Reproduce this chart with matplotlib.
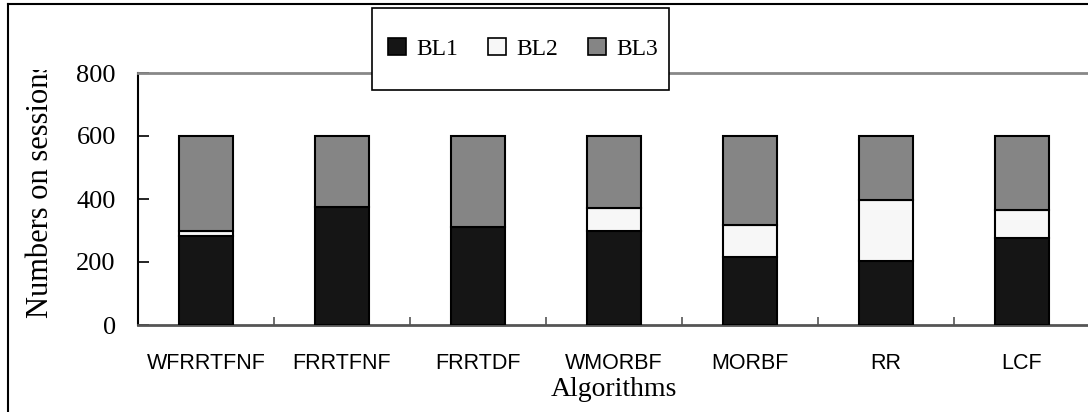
import matplotlib
matplotlib.use("Agg")
import matplotlib.pyplot as plt
from matplotlib.patches import Rectangle
from matplotlib.lines import Line2D
from matplotlib.transforms import Bbox, TransformedBbox
import numpy as np

# data
algorithms = ["WFRRTFNF", "FRRTFNF", "FRRTDF", "WMORBF", "MORBF", "RR", "LCF"]
bl1 = [283, 374, 312, 299, 215, 203, 276]
bl2 = [17, 0, 0, 73, 101, 194, 90]
bl3 = [300, 226, 288, 228, 284, 203, 234]
series_names = ["BL1", "BL2", "BL3"]
yticks = [0, 200, 400, 600, 800]

serif = ["Liberation Serif", "DejaVu Serif"]
sans = ["Liberation Sans", "DejaVu Sans"]

W, H = 1088, 412
fig = plt.figure(figsize=(W / 100, H / 100), dpi=100)
fig.patch.set_facecolor("white")

# axes placed in pixel terms of the reference
ax = fig.add_axes([138 / W, 87 / H, (1090 - 138) / W, 252 / H])

x = np.arange(len(algorithms))
colors = ["#151515", "#f7f7f7", "#858585"]
bottom = np.zeros(len(algorithms))
for vals, c in zip([bl1, bl2, bl3], colors):
    ax.bar(x, vals, width=0.4, bottom=bottom, color=c, edgecolor="black", linewidth=1.5, zorder=3)
    bottom += np.array(vals)

ax.set_xlim(-0.5, len(algorithms) - 0.5)
ax.set_ylim(0, 800)
ax.set_yticks(yticks)
ax.set_yticklabels([str(v) for v in yticks], family=serif, fontsize=19)
ax.tick_params(axis="y", direction="in", length=8, width=1.2, color="black", pad=16)

ax.set_xticks(x)
ax.set_xticklabels(algorithms, family=sans, fontsize=15.5)
ax.tick_params(axis="x", which="major", length=0, pad=20)
ax.set_xticks(np.arange(0.5, len(algorithms) - 0.5, 1), minor=True)
ax.tick_params(axis="x", which="minor", direction="in", length=6, width=1.2, color="#555555")

ax.spines["left"].set_color("black")
ax.spines["left"].set_linewidth(1.5)
ax.spines["bottom"].set_color("#555555")
ax.spines["bottom"].set_linewidth(2)
ax.spines["top"].set_color("#888888")
ax.spines["top"].set_linewidth(2)
ax.spines["right"].set_visible(False)

# x label
fig.text(614 / W, 1 - 390 / H, "Algorithms", ha="center", va="center", family=serif, fontsize=20)

# y label, clipped at the top like the reference
yl = fig.text(41 / W, 1 - 318 / H, "Numbers on sessions", rotation=90, ha="center", va="bottom",
              family=serif, fontsize=22)
yl.set_clip_box(TransformedBbox(Bbox.from_extents(0, 0, 1, 1 - 70 / H), fig.transFigure))
yl.set_clip_on(True)

# outer border (left and top only visible)
fig.add_artist(Line2D([8 / W, 8 / W], [0, 1 - 4 / H], transform=fig.transFigure, color="black", lw=1.5))
fig.add_artist(Line2D([8 / W, 1], [1 - 4 / H, 1 - 4 / H], transform=fig.transFigure, color="black", lw=1.5))

# legend box
fig.add_artist(Rectangle((372 / W, 1 - 90 / H), (669 - 372) / W, 82 / H, transform=fig.transFigure,
                         facecolor="white", edgecolor="black", lw=1.2, zorder=4))
handles = [Rectangle((0, 0), 1, 1, facecolor=c, edgecolor="black", lw=1.2) for c in colors]
fig.legend(handles, series_names, loc="center", bbox_to_anchor=(523 / W, 1 - 49 / H), ncol=3,
           frameon=False, prop={"family": serif, "size": 17},
           handlelength=0.75, handleheight=0.75, handletextpad=0.45, columnspacing=1.27)

fig.savefig("out.png", dpi=100)
